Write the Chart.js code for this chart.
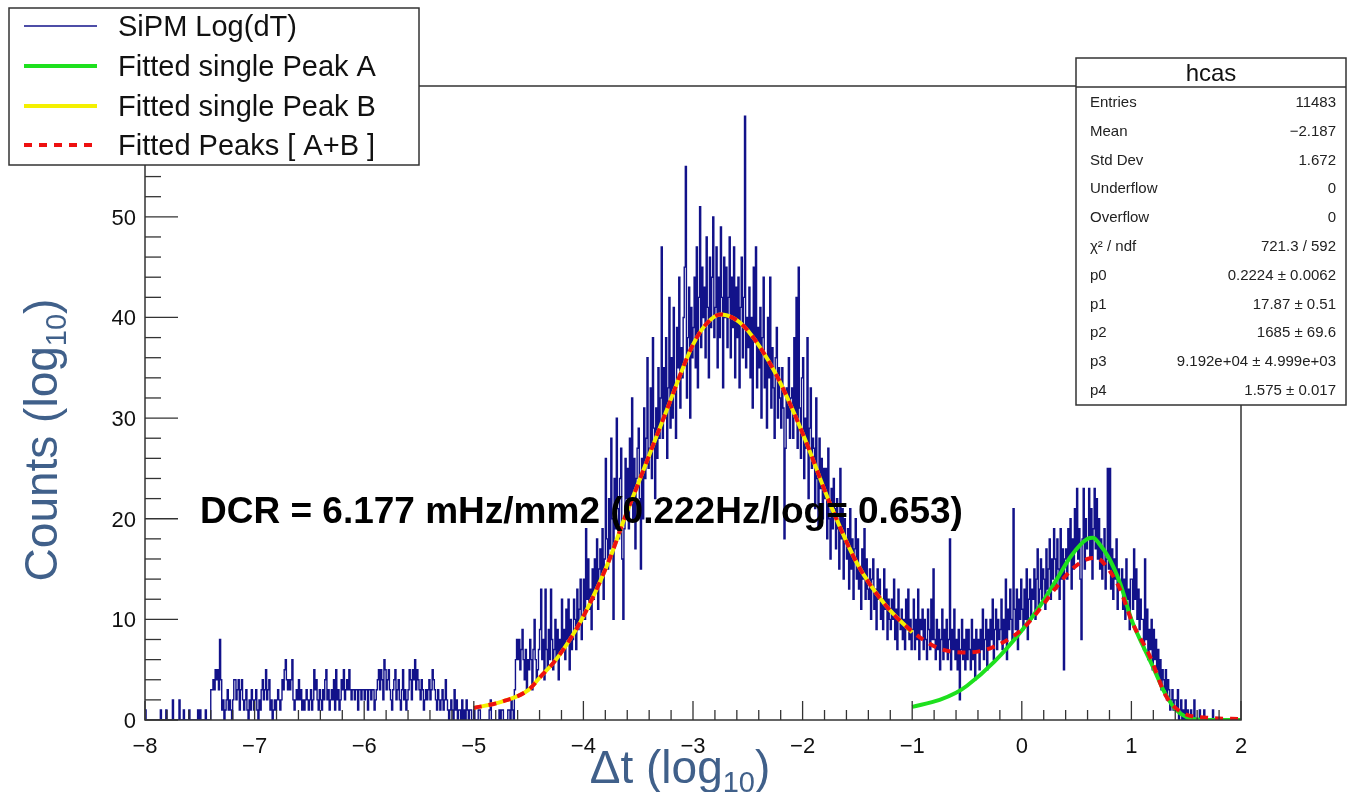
<!DOCTYPE html>
<html>
<head>
<meta charset="utf-8">
<title>hcas</title>
<script src="https://cdn.jsdelivr.net/npm/chart.js@4.4.1/dist/chart.umd.min.js"></script>
<style>
  html, body { margin: 0; padding: 0; background: #fff; }
  #c { display: block; }
</style>
</head>
<body>
<canvas id="c" width="1348" height="792"></canvas>
<script>
// log10(dT) histogram: 1000 bins of 0.01 between -8 and 2
const binLow = -8;
const binWidth = 0.01;

// -8.00 .. -5.01
const countsTail = [
  1,0,0,0,0,0,0,0,0,0, 0,0,0,0,1,0,0,0,0,1, 0,0,0,0,0,2,0,0,0,0, 0,2,0,0,0,1,0,0,0,0,
  1,0,0,0,0,0,0,0,1,0, 1,0,0,0,0,1,0,0,0,0, 3,3,4,3,5,4,5,3,8,4, 1,2,0,1,2,3,1,2,1,0,
  2,4,4,2,3,4,1,3,4,2, 1,2,3,1,0,2,1,3,2,1, 2,3,1,0,2,1,3,4,2,3, 5,2,3,4,1,2,0,1,2,1,
  2,3,2,1,2,4,3,5,6,4, 3,4,3,4,6,2,1,2,3,2, 4,2,3,1,2,1,2,3,2,1, 2,3,1,2,5,3,4,2,1,3,
  2,1,3,2,4,5,2,3,1,2, 3,2,4,1,5,2,3,1,2,4, 3,5,2,3,4,3,5,3,2,3, 3,2,3,3,1,3,3,2,3,3,
  2,3,3,1,3,3,2,3,3,1, 2,3,4,5,3,5,4,2,6,5, 3,4,5,3,2,1,3,4,5,2, 3,4,2,1,3,5,2,3,1,2,
  3,5,4,2,5,4,6,3,5,4, 3,2,4,3,1,2,3,2,3,4, 2,3,5,4,3,2,1,3,2,1, 2,3,1,2,4,2,1,0,1,2,
  1,0,3,1,2,0,1,1,0,2, 0,1,0,2,1,0,1,1,0,0
];

// -5.00 .. -1.01
const countsPeakB = [
  1,0,0,0,1,1,0,0,0,0, 0,0,0,0,1,2,0,0,0,0, 0,0,0,1,0,1,1,0,0,0, 0,1,1,0,2,1,0,3,6,8,
  6,8,5,7,9,6,4,7,3,6, 5,8,6,3,7,10,6,4,5,7, 9,13,6,8,4,13,7,5,9,6, 13,8,5,7,10,6,9,4,8,7,
  12,7,9,6,11,8,12,5,10,7, 8,12,10,7,13,9,11,14,8,10, 14,10,19,12,16,11,13,9,15,12,
  16,13,18,11,15,17,14,19,12,16, 26,18,15,22,17,28,20,10,24,19, 30,21,18,24,27,16,10,19,26,22,
  25,19,28,22,32,20,26,17,24,27, 29,22,15,26,20,31,24,28,36,25, 27,33,24,38,29,22,31,26,35,28,
  32,47,28,35,30,38,26,33,42,29, 36,30,41,33,28,39,35,44,31,37, 34,40,45,55,32,38,43,30,41,36,
  39,44,35,47,33,42,51,37,45,40, 43,36,48,41,34,46,39,44,50,38, 41,47,35,44,38,49,42,33,46,40,
  45,37,42,48,36,44,39,47,34,43, 38,44,33,41,46,36,42,60,35,40, 37,43,34,40,31,45,38,47,33,39,
  35,41,30,38,44,33,36,29,40,34, 44,31,37,33,28,36,39,30,35,32, 29,35,31,18,27,33,30,36,28,32,
  33,28,38,30,42,27,45,31,26,34, 36,24,30,27,38,22,29,33,25,28, 27,21,32,24,19,28,23,26,20,25,
  22,25,18,27,20,16,23,19,24,21, 17,22,19,15,25,18,21,14,20,18, 16,19,13,21,15,18,12,17,20,14,
  18,13,15,11,17,14,19,12,16,13, 12,15,10,14,16,11,13,9,15,12, 14,10,12,9,15,11,13,8,12,10,
  9,12,10,14,8,11,7,13,10,9, 11,8,10,7,12,9,13,8,10,7
];

// -1.00 .. 1.99
const countsPeakA = [
  9,12,7,10,8,13,6,10,9,11, 7,10,8,6,11,9,7,12,8,15, 8,6,10,7,9,5,8,11,6,9,
  7,10,6,8,18,5,9,7,11,6, 8,5,9,2,7,10,6,8,5,9, 6,9,7,5,10,6,8,4,9,7,
  8,5,9,7,11,6,8,10,5,9, 7,10,8,12,6,9,11,7,10,8, 9,12,7,10,8,14,6,11,9,13,
  10,8,21,11,9,13,7,12,10,14, 11,9,13,10,15,8,12,14,10,13, 12,15,10,14,17,11,13,16,12,15,
  14,11,17,13,15,18,12,16,14,19, 16,13,18,15,12,19,14,17,5,16, 17,14,19,16,20,13,18,15,21,17,
  23,16,19,14,8,18,23,15,20,17, 18,23,16,21,14,19,23,17,22,16, 20,15,18,14,17,19,13,16,25,15,
  25,13,17,12,16,14,18,11,15,13, 13,15,11,14,10,16,12,13,9,14, 14,11,17,12,15,10,13,9,12,10,
  10,7,16,8,11,6,9,7,10,5, 9,6,8,5,7,4,6,3,5,4, 3,5,2,4,3,1,2,3,1,2,
  2,1,3,0,1,2,0,1,0,2, 0,1,0,0,1,0,0,2,0,0, 0,0,1,0,0,0,1,0,0,0,
  0,0,0,0,1,0,0,0,0,0, 0,0,0,0,0,0,0,0,0,0, 0,0,0,0,0,0,0,0,0,0
];

// fitted curves, sampled along x
const peakAX = [-1.0, -0.75, -0.6, -0.5, -0.25, 0.0, 0.17, 0.32, 0.45, 0.6, 0.65, 0.7, 0.8, 0.9, 1.0, 1.1, 1.2, 1.3, 1.4, 1.5, 1.6, 1.8, 2.0];
const peakAY = [1.3, 2.0, 2.7, 3.4, 5.8, 8.9, 11.4, 14.0, 16.3, 18.0, 18.1, 17.6, 16.0, 13.5, 10.0, 7.5, 5.2, 2.8, 1.1, 0.3, 0.05, 0.0, 0.0];

const peakBX = [-5.0, -4.75, -4.5, -4.4, -4.25, -4.1, -4.0, -3.85, -3.75, -3.64, -3.5, -3.25, -3.0, -2.875, -2.75, -2.625, -2.5, -2.25, -2.0, -1.75, -1.5, -1.25, -1.0];
const peakBY = [1.2, 1.8, 3.0, 4.2, 6.0, 8.4, 10.3, 13.7, 16.3, 19.6, 23.5, 30.5, 37.3, 39.4, 40.3, 39.9, 38.7, 34.5, 28.5, 21.5, 15.5, 11.5, 8.7];

const sumX = [-5.0, -4.75, -4.5, -4.4, -4.25, -4.1, -4.0, -3.85, -3.75, -3.64, -3.5, -3.25, -3.0, -2.875, -2.75, -2.625, -2.5, -2.25, -2.0, -1.75, -1.5, -1.25, -1.0,
              -0.75, -0.5, -0.25, 0.0, 0.17, 0.3, 0.47, 0.6, 0.68, 0.77, 0.9, 1.0, 1.17, 1.32, 1.47, 1.72, 2.0];
const sumY = [1.2, 1.8, 3.0, 4.2, 6.0, 8.4, 10.3, 13.7, 16.3, 19.6, 23.5, 30.5, 37.3, 39.4, 40.3, 39.9, 38.7, 34.5, 28.5, 21.5, 15.5, 11.5, 8.8,
              7.1, 6.7, 7.3, 9.0, 11.1, 13.0, 15.1, 16.0, 16.1, 15.3, 12.9, 9.9, 6.3, 2.3, 0.7, 0.2, 0.1];

const xTicks = [-8, -7, -6, -5, -4, -3, -2, -1, 0, 1, 2];
const yTicks = [0, 10, 20, 30, 40, 50];

const legendLabels = ['SiPM Log(dT)', 'Fitted single Peak A', 'Fitted single Peak B', 'Fitted Peaks [ A+B ]'];

const statsTitle = 'hcas';
const statsNames = ['Entries', 'Mean', 'Std Dev', 'Underflow', 'Overflow', 'χ² / ndf', 'p0', 'p1', 'p2', 'p3', 'p4'];
const statsValues = ['11483', '−2.187', '1.672', '0', '0', '721.3 / 592', '0.2224 ± 0.0062', '17.87 ± 0.51',
                     '1685 ± 69.6', '9.192e+04 ± 4.999e+03', '1.575 ± 0.017'];

const dcrText = 'DCR = 6.177 mHz/mm2 (0.222Hz/log= 0.653)';

const FONT = '"Liberation Sans", Arial, Helvetica, sans-serif';
const HIST_BLUE = '#12128a';
const GREEN = '#1ee01e';
const YELLOW = '#f4f000';
const RED = '#ee1111';
const TITLE_BLUE = '#40608a';

const counts = countsTail.concat(countsPeakB, countsPeakA);
const histPoints = counts.map((c, i) => ({ x: binLow + binWidth * (i + 0.5), y: c }));
histPoints.unshift({ x: binLow, y: counts[0] });
histPoints.push({ x: binLow + binWidth * counts.length, y: counts[counts.length - 1] });

const zip = (xs, ys) => xs.map((v, i) => ({ x: v, y: ys[i] }));

function fmtTick(v) {
  return v < 0 ? '\u2212' + Math.abs(v) : String(v);
}

// draws text pieces with a subscript, centred on (cx, baseline)
function drawSubText(ctx, pieces, cx, baseline) {
  let w = 0;
  pieces.forEach(p => { ctx.font = p.size + 'px ' + FONT; p.w = ctx.measureText(p.t).width; w += p.w; });
  let x = cx - w / 2;
  ctx.textAlign = 'left';
  ctx.textBaseline = 'alphabetic';
  pieces.forEach(p => {
    ctx.font = p.size + 'px ' + FONT;
    ctx.fillText(p.t, x, baseline + (p.dy || 0));
    x += p.w;
  });
}

const rootStyle = {
  id: 'rootStyle',
  afterDatasetsDraw(chart) {
    const { ctx, chartArea: a, scales } = chart;
    const xs = scales.x, ys = scales.y;
    ctx.save();
    // frame
    ctx.strokeStyle = '#333';
    ctx.lineWidth = 1.5;
    ctx.strokeRect(a.left, a.top, a.right - a.left, a.bottom - a.top);

    // x axis ticks, minor every 0.2
    ctx.lineWidth = 1.3;
    for (let k = 0; k <= 50; k++) {
      const px = xs.getPixelForValue(xTicks[0] + k * 0.2);
      const len = k % 5 === 0 ? 19 : 10;
      ctx.beginPath();
      ctx.moveTo(px, a.bottom);
      ctx.lineTo(px, a.bottom - len);
      ctx.stroke();
    }
    // y axis ticks, minor every 2
    for (let v = 0; v <= ys.max; v += 2) {
      const py = ys.getPixelForValue(v);
      const len = v % 10 === 0 ? 33 : 16;
      ctx.beginPath();
      ctx.moveTo(a.left, py);
      ctx.lineTo(a.left + len, py);
      ctx.stroke();
    }

    // tick labels
    ctx.fillStyle = '#111';
    ctx.font = '22px ' + FONT;
    ctx.textBaseline = 'alphabetic';
    ctx.textAlign = 'center';
    xTicks.forEach(v => ctx.fillText(fmtTick(v), xs.getPixelForValue(v), a.bottom + 33));
    ctx.textAlign = 'right';
    yTicks.forEach(v => ctx.fillText(fmtTick(v), a.left - 9, ys.getPixelForValue(v) + 8));

    // DCR annotation
    ctx.fillStyle = '#000';
    ctx.font = 'bold 32px ' + FONT;
    const scale = 763 / ctx.measureText(dcrText).width;
    ctx.font = 'bold ' + (32 * scale).toFixed(1) + 'px ' + FONT;
    ctx.textAlign = 'left';
    ctx.fillText(dcrText, 200, 523);
    ctx.restore();
  },
  afterDraw(chart) {
    const { ctx } = chart;
    ctx.save();

    // axis titles
    ctx.fillStyle = TITLE_BLUE;
    drawSubText(ctx, [{ t: '\u0394t (log', size: 46 }, { t: '10', size: 29, dy: 9 }, { t: ')', size: 46 }], 680, 783);
    ctx.save();
    ctx.translate(57, 440);
    ctx.rotate(-Math.PI / 2);
    drawSubText(ctx, [{ t: 'Counts (log', size: 46 }, { t: '10', size: 29, dy: 9 }, { t: ')', size: 46 }], 0, 0);
    ctx.restore();

    // legend
    ctx.fillStyle = '#fff';
    ctx.fillRect(9, 8, 410, 157);
    ctx.strokeStyle = '#333';
    ctx.lineWidth = 1.5;
    ctx.strokeRect(9, 8, 410, 157);
    const rows = [26, 66, 106, 145];
    const styles = [
      { c: HIST_BLUE, w: 1.3, d: [] },
      { c: GREEN, w: 4, d: [] },
      { c: YELLOW, w: 4, d: [] },
      { c: RED, w: 4, d: [8, 7] }
    ];
    legendLabels.forEach((lab, i) => {
      const s = styles[i];
      ctx.strokeStyle = s.c;
      ctx.lineWidth = s.w;
      ctx.setLineDash(s.d);
      ctx.beginPath();
      ctx.moveTo(24, rows[i]);
      ctx.lineTo(97, rows[i]);
      ctx.stroke();
      ctx.setLineDash([]);
      ctx.fillStyle = '#111';
      ctx.font = '29px ' + FONT;
      ctx.textAlign = 'left';
      ctx.textBaseline = 'alphabetic';
      ctx.fillText(lab, 118, rows[i] + 10);
    });

    // statistics box
    const bx = 1076, by = 58, bw = 270, bh = 347;
    ctx.fillStyle = '#fff';
    ctx.fillRect(bx, by, bw, bh);
    ctx.strokeStyle = '#333';
    ctx.lineWidth = 1.5;
    ctx.strokeRect(bx, by, bw, bh);
    ctx.beginPath();
    ctx.moveTo(bx, 87);
    ctx.lineTo(bx + bw, 87);
    ctx.stroke();
    ctx.fillStyle = '#111';
    ctx.font = '24px ' + FONT;
    ctx.textAlign = 'center';
    ctx.fillText(statsTitle, bx + bw / 2, 81);
    ctx.font = '15px ' + FONT;
    ctx.fillStyle = '#222';
    statsNames.forEach((n, i) => {
      const yy = 102 + i * 28.8 + 5;
      ctx.textAlign = 'left';
      ctx.fillText(n, 1090, yy);
      ctx.textAlign = 'right';
      ctx.fillText(statsValues[i], 1336, yy);
    });
    ctx.restore();
  }
};

new Chart(document.getElementById('c'), {
  type: 'line',
  data: {
    datasets: [
      { label: 'Fitted Peaks [ A+B ]', data: zip(sumX, sumY), borderColor: RED, borderWidth: 4,
        borderDash: [8, 7], cubicInterpolationMode: 'monotone', pointRadius: 0, order: 0 },
      { label: 'Fitted single Peak B', data: zip(peakBX, peakBY), borderColor: YELLOW, borderWidth: 4,
        cubicInterpolationMode: 'monotone', pointRadius: 0, order: 1 },
      { label: 'Fitted single Peak A', data: zip(peakAX, peakAY), borderColor: GREEN, borderWidth: 4,
        cubicInterpolationMode: 'monotone', pointRadius: 0, order: 2 },
      { label: 'SiPM Log(dT)', data: histPoints, borderColor: HIST_BLUE, borderWidth: 1.4,
        stepped: 'middle', pointRadius: 0, order: 3 }
    ]
  },
  options: {
    responsive: false,
    animation: false,
    devicePixelRatio: 1,
    layout: { padding: { left: 145, right: 107, top: 86, bottom: 72 } },
    plugins: { legend: { display: false }, tooltip: { enabled: false } },
    scales: {
      x: { type: 'linear', min: -8, max: 2, display: false },
      y: { type: 'linear', min: 0, max: 63, display: false }
    }
  },
  plugins: [rootStyle]
});
</script>
</body>
</html>
